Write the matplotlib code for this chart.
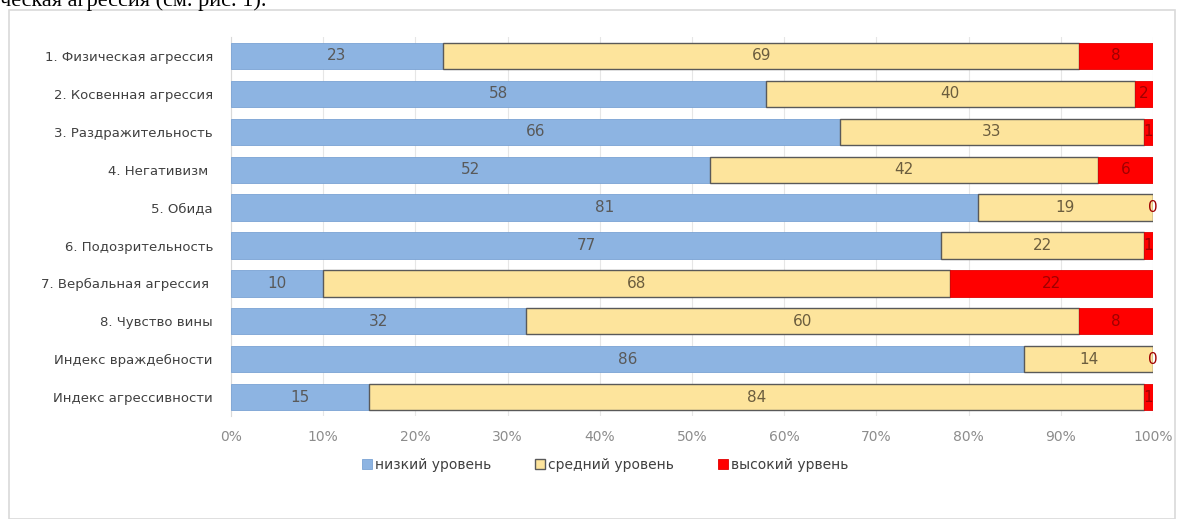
import matplotlib.pyplot as plt
from matplotlib.patches import Rectangle
from matplotlib.ticker import PercentFormatter

categorias = ['1. Физическая агрессия', '2. Косвенная агрессия', '3. Раздражительность',
              '4. Негативизм ', '5. Обида', '6. Подозрительность', '7. Вербальная агрессия ',
              '8. Чувство вины', 'Индекс враждебности', 'Индекс агрессивности']
nizkiy = [23, 58, 66, 52, 81, 77, 10, 32, 86, 15]
sredniy = [69, 40, 33, 42, 19, 22, 68, 60, 14, 84]
vysokiy = [8, 2, 1, 6, 0, 1, 22, 8, 0, 1]
series_names = ['низкий уровень', 'средний уровень', 'высокий урвень']

fig = plt.figure(figsize=(11.84, 5.19), dpi=100)

# строка текста сверху (в оригинале срезана краем)
fig.text(0.0, 0.997, 'ческая агрессия (см. рис. 1).', family='Liberation Serif',
         fontsize=16, va='center', ha='left', color='black')

# рамка диаграммы
fig.patches.append(Rectangle((9/1184, 0.0), 1166/1184, 1 - 10/519, transform=fig.transFigure,
                             fill=False, edgecolor='#d9d9d9', lw=1.2))

ax = fig.add_axes([231/1184, 0.198, 922/1184, 0.731])
y = list(range(len(categorias)))
h = 0.69

b1 = ax.barh(y, nizkiy, height=h, color='#8db4e2', edgecolor='#7aa3d4', lw=0.6,
             label=series_names[0], zorder=3)
left2 = nizkiy
b2 = ax.barh(y, sredniy, left=left2, height=h, color='#fde49c', edgecolor='#595959', lw=1.0,
             label=series_names[1], zorder=3)
left3 = [a + b for a, b in zip(nizkiy, sredniy)]
b3 = ax.barh(y, vysokiy, left=left3, height=h, color='#ff0000', edgecolor='#e00000', lw=0.6,
             label=series_names[2], zorder=3)

ax.bar_label(b1, labels=[str(v) for v in nizkiy], label_type='center', color='#595959', fontsize=11)
ax.bar_label(b2, labels=[str(v) for v in sredniy], label_type='center', color='#6b5d3e', fontsize=11)
ax.bar_label(b3, labels=[str(v) for v in vysokiy], label_type='center', color='#a00000', fontsize=11)

ax.set_xlim(0, 100)
ax.set_ylim(len(categorias) - 0.5, -0.5)
ax.set_yticks(y)
ax.set_yticklabels(categorias, fontsize=9.5, color='#404040')
ax.set_xticks(range(0, 101, 10))
ax.xaxis.set_major_formatter(PercentFormatter(decimals=0))
ax.tick_params(axis='x', labelsize=10, colors='#8c8c8c', length=0, pad=10)
ax.tick_params(axis='y', length=0, pad=13)
ax.grid(axis='x', color='#e6e6e6', lw=0.8, zorder=0)
for s in ['top', 'right', 'bottom']:
    ax.spines[s].set_visible(False)
ax.spines['left'].set_color('#d9d9d9')

fig.legend(handles=[b1, b2, b3], labels=series_names, loc='center', bbox_to_anchor=(605/1184, 1 - 465/519),
           ncol=3, frameon=False, fontsize=10, handlelength=0.7, handleheight=0.7,
           handletextpad=0.2, columnspacing=3.2, labelcolor='#404040')

fig.savefig('out.png', dpi=100)
